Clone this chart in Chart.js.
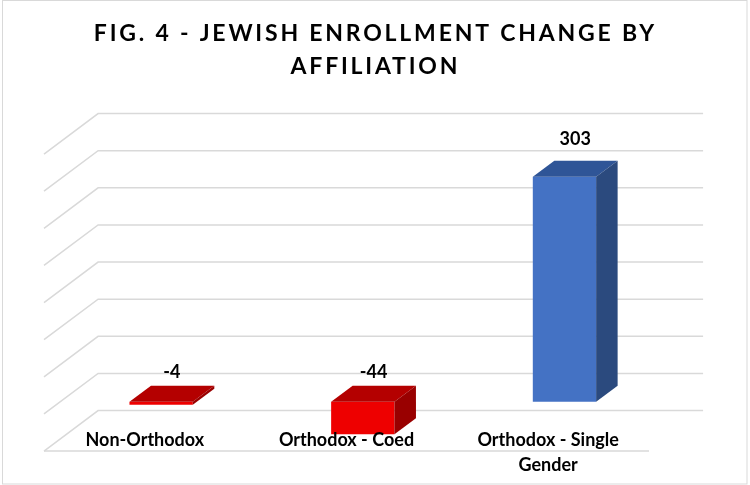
<!DOCTYPE html>
<html>
<head>
<meta charset="utf-8">
<script src="https://cdn.jsdelivr.net/npm/chart.js@4.4.1/dist/chart.umd.min.js"></script>
<style>
    body { margin: 0; background: #fff; }
    #area-grafico { width: 750px; height: 485px; position: relative; }
</style>
</head>
<body>
<div id="area-grafico"><canvas id="grafico"></canvas></div>
<script>
// Dados do gráfico
const categorias = [['Non-Orthodox'], ['Orthodox - Coed'], ['Orthodox - Single', 'Gender']];
const valores = [-4, -44, 303];
const tituloLinhas = ['FIG. 4 - JEWISH ENROLLMENT CHANGE BY', 'AFFILIATION'];
const eixoMin = -50;
const eixoMax = 350;
const eixoPasso = 50;

// Cores (frente, topo, lateral)
const corFrente = valores.map(v => v < 0 ? '#EE0000' : '#4472C4');
const corTopo = valores.map(v => v < 0 ? '#B40000' : '#2F5597');
const corLado = valores.map(v => v < 0 ? '#990000' : '#2B4A7E');

// Deslocamentos da perspectiva 3D
const piso = { dx: 16.3, dy: 12.25 };   // frente do piso em relação à frente da barra
const barra = { dx: 21.5, dy: 16 };     // profundidade da barra
const parede = { dx: 37.8, dy: 28.25 }; // parede do fundo
const corGrade = '#D9D9D9';
const fonteTexto = 'bold 18px Lato, "Open Sans", sans-serif';

// Plugin que desenha a grade em perspectiva, as faces 3D e os textos
const plugin3d = {
    id: 'plugin3d',
    beforeDatasetsDraw(chart) {
        const ctx = chart.ctx;
        const area = chart.chartArea;
        const y = chart.scales.y;
        ctx.save();
        ctx.strokeStyle = corGrade;
        ctx.lineWidth = 1.5;
        y.ticks.forEach((tick) => {
            const py = y.getPixelForValue(tick.value);
            ctx.beginPath();
            ctx.moveTo(area.left - piso.dx, py + piso.dy);
            ctx.lineTo(area.left + parede.dx, py - parede.dy);
            ctx.lineTo(area.right + parede.dx, py - parede.dy);
            ctx.stroke();
        });
        // borda da frente do piso
        const pyMin = y.getPixelForValue(eixoMin);
        ctx.beginPath();
        ctx.moveTo(area.left - piso.dx, pyMin + piso.dy);
        ctx.lineTo(area.right - piso.dx, pyMin + piso.dy);
        ctx.stroke();
        ctx.restore();
    },
    afterDatasetsDraw(chart) {
        const ctx = chart.ctx;
        const meta = chart.getDatasetMeta(0);
        ctx.save();
        meta.data.forEach((el, i) => {
            const p = el.getProps(['x', 'y', 'base', 'width'], true);
            const esq = p.x - p.width / 2;
            const dir = p.x + p.width / 2;
            const topo = Math.min(p.y, p.base);
            const baixo = Math.max(p.y, p.base);
            // face de cima
            ctx.fillStyle = corTopo[i];
            ctx.beginPath();
            ctx.moveTo(esq, topo);
            ctx.lineTo(esq + barra.dx, topo - barra.dy);
            ctx.lineTo(dir + barra.dx, topo - barra.dy);
            ctx.lineTo(dir, topo);
            ctx.closePath();
            ctx.fill();
            // face lateral
            ctx.fillStyle = corLado[i];
            ctx.beginPath();
            ctx.moveTo(dir, topo);
            ctx.lineTo(dir + barra.dx, topo - barra.dy);
            ctx.lineTo(dir + barra.dx, baixo - barra.dy);
            ctx.lineTo(dir, baixo);
            ctx.closePath();
            ctx.fill();
            // rótulo do valor
            ctx.fillStyle = '#000';
            ctx.font = fonteTexto;
            ctx.textAlign = 'center';
            ctx.textBaseline = 'alphabetic';
            const folga = valores[i] < 0 ? 8 : 15.5;
            ctx.fillText(String(valores[i]), p.x + barra.dx / 2, topo - barra.dy - folga);
        });
        ctx.restore();
    },
    afterDraw(chart) {
        const ctx = chart.ctx;
        const x = chart.scales.x;
        const y = chart.scales.y;
        ctx.save();
        // rótulos das categorias no piso
        ctx.fillStyle = '#000';
        ctx.font = fonteTexto;
        ctx.textAlign = 'center';
        ctx.textBaseline = 'alphabetic';
        const base = y.getPixelForValue(eixoMin) + piso.dy - 5;
        categorias.forEach((linhas, i) => {
            const px = x.getPixelForValue(i) - piso.dx;
            linhas.forEach((txt, j) => {
                ctx.fillText(txt, px, base + j * 24.5);
            });
        });
        // título com espaçamento entre letras
        ctx.font = 'bold 23px Lato, "Open Sans", sans-serif';
        ctx.letterSpacing = '2.8px';
        tituloLinhas.forEach((txt, j) => {
            ctx.fillText(txt, 374 + 1.4, 41 + j * 33);
        });
        ctx.letterSpacing = '0px';
        // borda do gráfico
        ctx.strokeStyle = corGrade;
        ctx.lineWidth = 1;
        ctx.strokeRect(2.5, 0.5, 744.5, 483.5);
        ctx.restore();
    }
};

const ctx = document.getElementById('grafico').getContext('2d');
new Chart(ctx, {
    type: 'bar',
    data: {
        labels: categorias,
        datasets: [{
            label: 'Enrollment change',
            data: valores,
            backgroundColor: corFrente,
            borderWidth: 0,
            categoryPercentage: 1,
            barPercentage: 0.314
        }]
    },
    options: {
        responsive: true,
        maintainAspectRatio: false,
        animation: false,
        layout: {
            padding: { left: 60.3, right: 84.7, top: 141.8, bottom: 46.2 }
        },
        plugins: {
            legend: { display: false },
            title: { display: false },
            tooltip: { enabled: false }
        },
        scales: {
            x: { display: false },
            y: {
                display: false,
                min: eixoMin,
                max: eixoMax,
                ticks: { stepSize: eixoPasso }
            }
        }
    },
    plugins: [plugin3d]
});
</script>
</body>
</html>
